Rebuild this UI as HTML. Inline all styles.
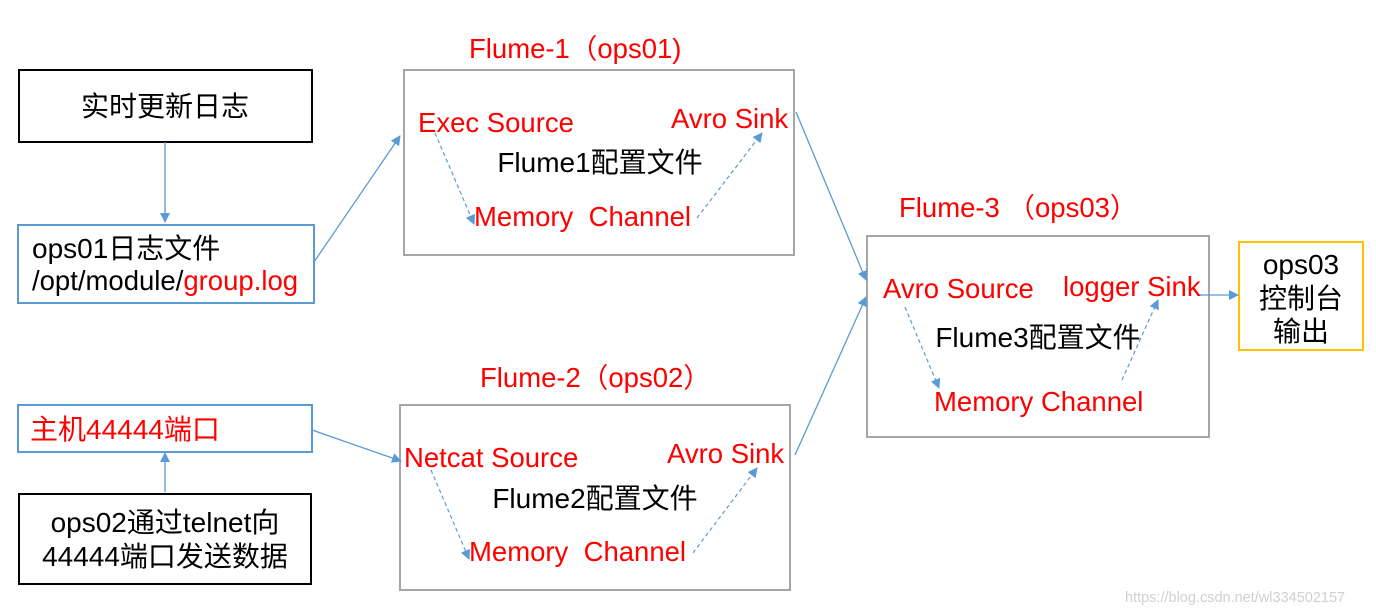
<!DOCTYPE html>
<html><head><meta charset="utf-8"><style>
html,body{margin:0;padding:0;background:#fff;width:1376px;height:614px;overflow:hidden}
text{font-family:"Liberation Sans","Noto Sans CJK SC",sans-serif;font-size:27.5px}
.r{fill:#ff0000}.k{fill:#000}
.c{font-size:28px}
</style></head><body>
<svg width="1376" height="614" viewBox="0 0 1376 614" xmlns="http://www.w3.org/2000/svg">
<defs>
<marker id="a" markerWidth="10" markerHeight="10" refX="9" refY="5" orient="auto" markerUnits="userSpaceOnUse"><path d="M0,0 L10,5 L0,10 z" fill="#5b9bd5"/></marker>
</defs>
<rect x="19" y="70" width="293" height="72" fill="none" stroke="#000" stroke-width="2"/>
<rect x="18" y="225" width="296" height="78" fill="none" stroke="#5b9bd5" stroke-width="2"/>
<rect x="404" y="70" width="390" height="185" fill="none" stroke="#a6a6a6" stroke-width="2"/>
<rect x="867" y="236" width="342" height="201" fill="none" stroke="#a6a6a6" stroke-width="2"/>
<rect x="1239" y="242" width="124" height="108" fill="none" stroke="#ffc000" stroke-width="2"/>
<rect x="400" y="405" width="390" height="185" fill="none" stroke="#a6a6a6" stroke-width="2"/>
<rect x="18" y="405" width="294" height="47" fill="none" stroke="#5b9bd5" stroke-width="2"/>
<rect x="19" y="494" width="292" height="90" fill="none" stroke="#000" stroke-width="2"/>
<g stroke="#5b9bd5" stroke-width="1.3" fill="none">
<line x1="165" y1="142" x2="165" y2="222" marker-end="url(#a)"/>
<line x1="314" y1="262" x2="400" y2="136" marker-end="url(#a)"/>
<line x1="796" y1="112" x2="866" y2="280" marker-end="url(#a)"/>
<line x1="795" y1="455" x2="866" y2="297" marker-end="url(#a)"/>
<line x1="1197" y1="295" x2="1238" y2="295" marker-end="url(#a)"/>
<line x1="312" y1="430" x2="401" y2="461" marker-end="url(#a)"/>
<line x1="165" y1="492" x2="165" y2="453" marker-end="url(#a)"/>
</g>
<g stroke="#5b9bd5" stroke-width="1.2" fill="none" stroke-dasharray="4,3">
<line x1="435" y1="133" x2="474" y2="224" marker-end="url(#a)"/>
<line x1="697" y1="218" x2="762" y2="133" marker-end="url(#a)"/>
<line x1="905" y1="307" x2="939" y2="388" marker-end="url(#a)"/>
<line x1="1122" y1="380" x2="1158" y2="300" marker-end="url(#a)"/>
<line x1="431" y1="470" x2="469" y2="559" marker-end="url(#a)"/>
<line x1="693" y1="553" x2="757" y2="468" marker-end="url(#a)"/>
</g>
<text class="k c" x="165" y="116" text-anchor="middle">实时更新日志</text>
<text class="k c" x="32" y="258">ops01日志文件</text>
<text x="32" y="290"><tspan class="k">/opt/module/</tspan><tspan class="r">group.log</tspan></text>
<text class="r" x="469" y="58">Flume-1（ops01)</text>
<text class="r" x="418" y="132">Exec Source</text>
<text class="r" x="671" y="128">Avro Sink</text>
<text class="k c" x="600" y="172" text-anchor="middle">Flume1配置文件</text>
<text class="r" x="474" y="226" xml:space="preserve">Memory  Channel</text>
<text class="r" x="899" y="217" xml:space="preserve">Flume-3 （ops03）</text>
<text class="r" x="883" y="298">Avro Source</text>
<text class="r" x="1063" y="296">logger Sink</text>
<text class="k c" x="1038" y="347" text-anchor="middle">Flume3配置文件</text>
<text class="r" x="934" y="411">Memory Channel</text>
<text class="k c" x="1301" y="274" text-anchor="middle">ops03</text>
<text class="k c" x="1301" y="308" text-anchor="middle">控制台</text>
<text class="k c" x="1301" y="341" text-anchor="middle">输出</text>
<text class="r" x="480" y="387">Flume-2（ops02）</text>
<text class="r" x="404" y="467">Netcat Source</text>
<text class="r" x="667" y="463">Avro Sink</text>
<text class="k c" x="595" y="508" text-anchor="middle">Flume2配置文件</text>
<text class="r" x="469" y="561" xml:space="preserve">Memory  Channel</text>
<text class="r c" x="30" y="439">主机44444端口</text>
<text class="k c" x="165" y="532" text-anchor="middle">ops02通过telnet向</text>
<text class="k c" x="165" y="566" text-anchor="middle">44444端口发送数据</text>
<text x="1125" y="602" style="font-size:14.5px;fill:#d0d0d0">https://blog.csdn.net/wl334502157</text>
</svg>
</body></html>
